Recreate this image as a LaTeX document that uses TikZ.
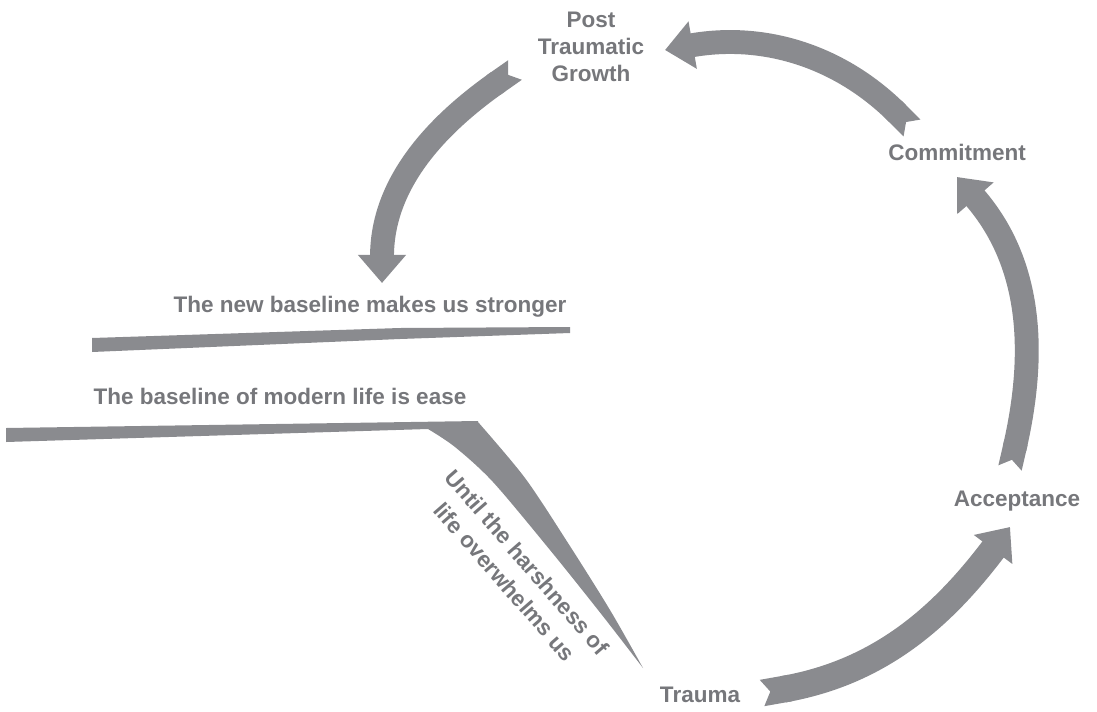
\documentclass[tikz,border=0pt]{standalone}
\usepackage{fontspec}
\setmainfont{Liberation Sans}
\usetikzlibrary{arrows.meta}
\definecolor{brushgray}{RGB}{138,139,143}
\definecolor{textgray}{RGB}{118,119,123}
\begin{document}
\begin{tikzpicture}[x=0.025cm, y=0.025cm,
    stagetext/.style={text=textgray, font=\fontsize{16}{19}\selectfont\bfseries, align=center, inner sep=0pt},
    brush/.style={draw=brushgray, line width=17pt, {Triangle Cap[reversed,length=6pt]}-{Triangle[length=20pt,width=33pt]}}]
    \useasboundingbox (0,0) rectangle (1097,-711);
    % stages of the cycle
    \node[stagetext] (ptg) at (591,-47) {Post\\Traumatic\\Growth};
    \node[stagetext] (commit) at (957,-152) {Commitment};
    \node[stagetext] (accept) at (1017,-501) {Acceptance};
    \node[stagetext] (trauma) at (700,-695) {Trauma};
    % baselines
    \node[stagetext, anchor=base] (newbase) at (370,-312) {The new baseline makes us stronger};
    \node[stagetext, anchor=base] (oldbase) at (280,-404) {The baseline of modern life is ease};
    \node[stagetext, rotate=-49, font=\fontsize{16}{21}\selectfont\bfseries] (harsh) at (516,-572) {Until the harshness of\\life overwhelms us};
    \fill[brushgray] (92,-338) -- (400,-328) -- (570,-327) -- (570,-333) -- (400,-339) -- (92,-352) -- cycle;
    \fill[brushgray] (6,-428) -- (478,-421)
        -- plot[smooth] coordinates {(478,-422) (525,-478) (568,-543) (610,-610) (643,-668)}
        -- plot[smooth] coordinates {(643,-668) (602,-615) (550,-550) (493,-482) (455,-447) (428,-429)}
        -- (6,-442) -- cycle;
    % arrow ends
    \coordinate (t1) at (762,-693);
    \coordinate (h1) at (1010,-527);
    \coordinate (t2) at (1010,-468);
    \coordinate (h2) at (957,-177);
    \coordinate (t3) at (912,-128);
    \coordinate (h3) at (665,-50);
    \coordinate (t4) at (515,-70);
    \coordinate (h4) at (382,-283);
    \draw[brush, line width=19pt] (t1) to[out=10, in=233] (h1);
    \draw[brush] (t2) to[out=77, in=311] (h2);
    \draw[brush] (t3) to[out=135, in=10] (h3);
    \draw[brush] (t4) to[out=215, in=90] (h4);
\end{tikzpicture}
\end{document}
